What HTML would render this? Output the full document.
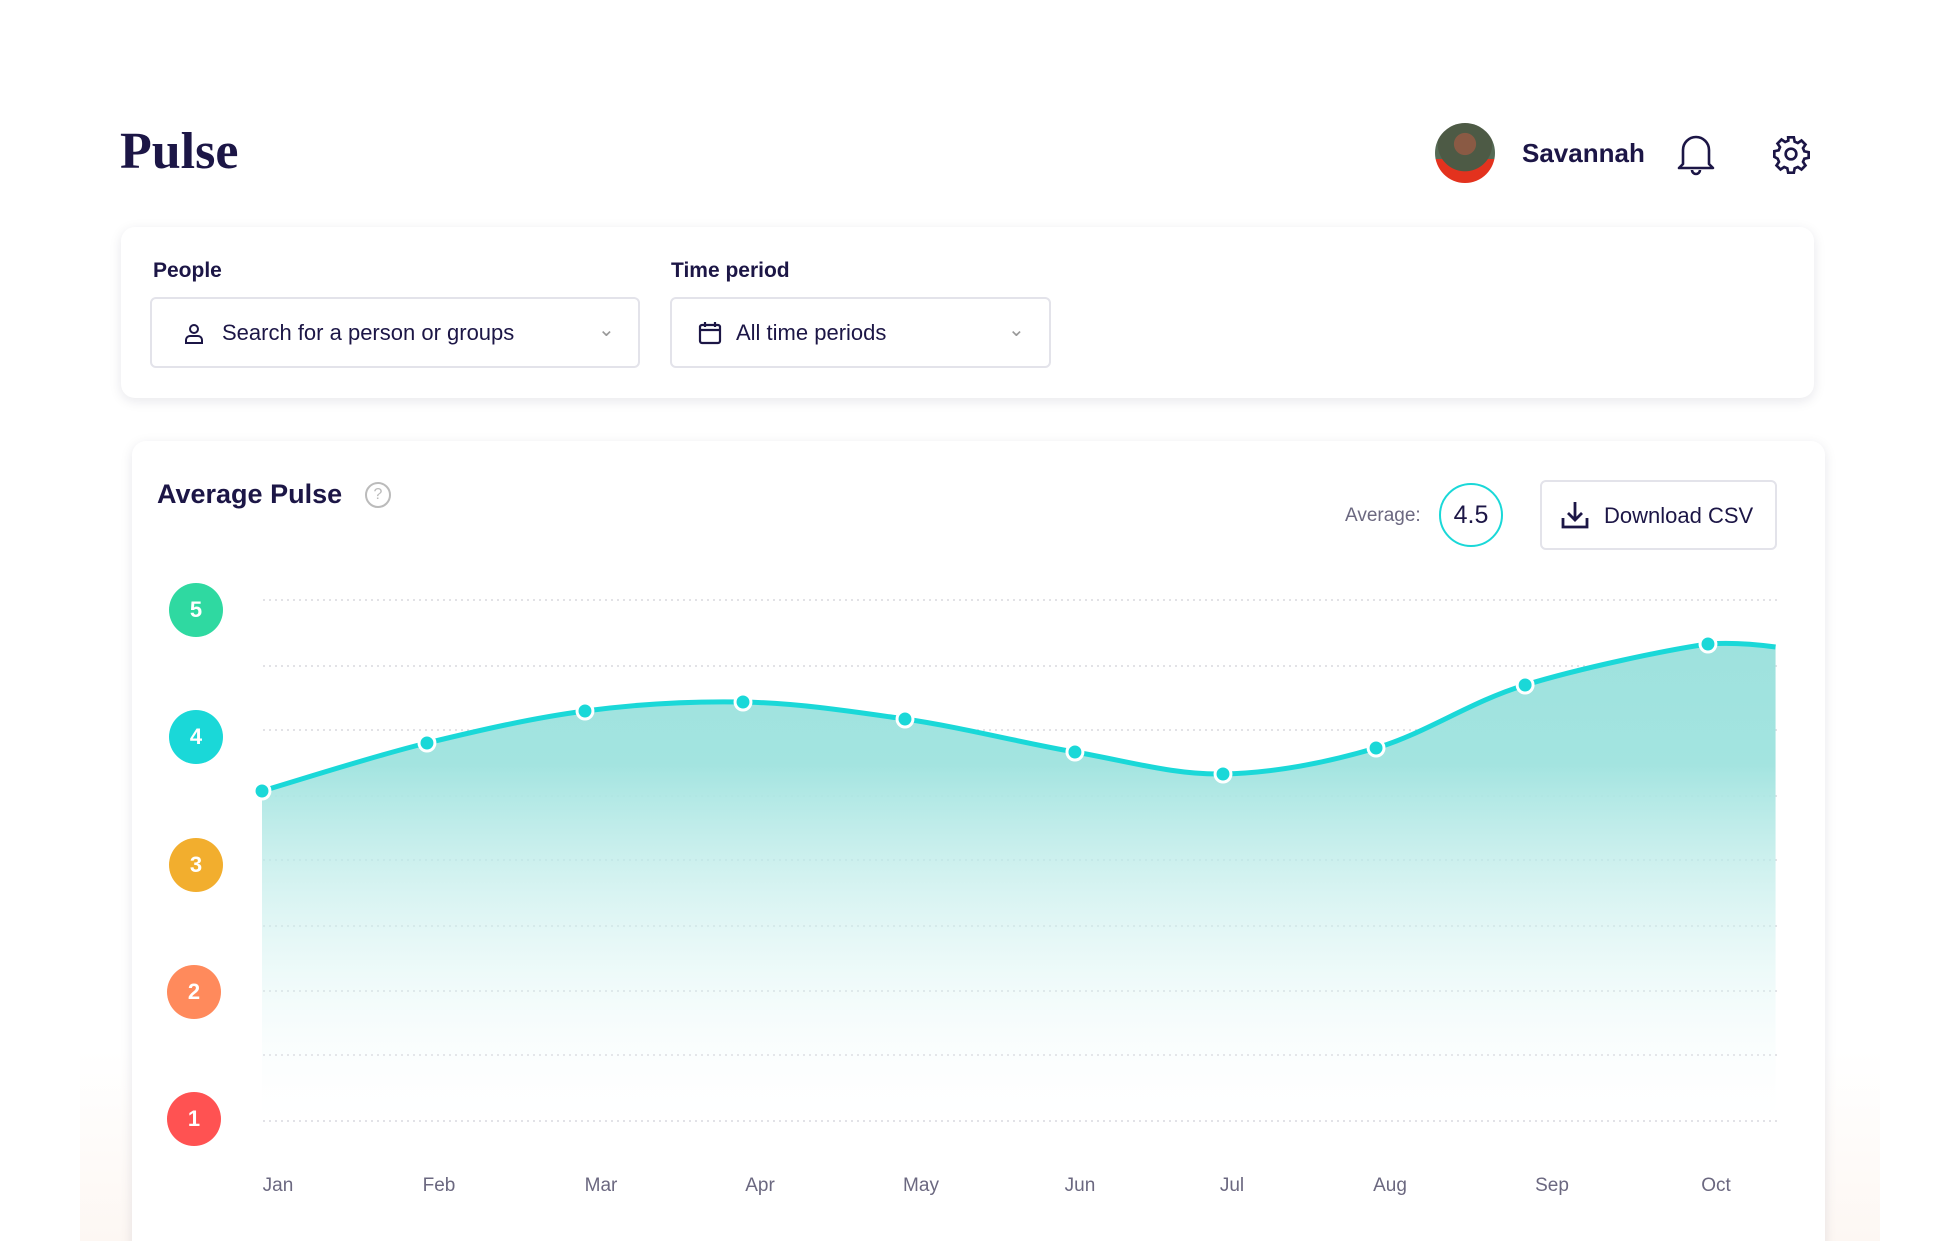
<!DOCTYPE html>
<html><head><meta charset="utf-8"><style>
*{margin:0;padding:0;box-sizing:border-box}
html,body{width:1939px;height:1241px;overflow:hidden}
body{background:#fff;font-family:"Liberation Sans",sans-serif;color:#1c1646;position:relative}
.abs{position:absolute}
.card{position:absolute;background:#fff;border-radius:14px;box-shadow:0 3px 12px rgba(20,20,60,0.10)}
.lbl{font-size:21px;font-weight:bold;color:#1c1646}
.dd{position:absolute;border:2px solid #e3e3ea;border-radius:6px;background:#fff;height:71px;top:297px;font-size:22px;color:#1c1646}
.lvl{position:absolute;width:54px;height:54px;border-radius:50%;color:#fff;font-weight:bold;font-size:22px;text-align:center;line-height:54px;left:169px}
.mon{position:absolute;top:1175px;font-size:19px;color:#6b6880;transform:translateX(-50%)}
</style></head><body>
<div class="abs" style="left:80px;top:1050px;width:1800px;height:191px;background:linear-gradient(#fff,#fdf7f3)"></div>
<div class="abs" style="left:120px;top:122px;font-family:'Liberation Serif',serif;font-weight:bold;font-size:52px;color:#1c1646">Pulse</div>
<div class="abs" style="left:1435px;top:123px;width:60px;height:60px;border-radius:50%;background:radial-gradient(circle at 50% 35%,#8a5a44 0 22%,#4d5a45 23% 55%,transparent 56%),linear-gradient(#556a55 0 60%,#e3321e 60%)"></div>
<div class="abs" style="left:1522px;top:138px;font-size:26px;font-weight:bold">Savannah</div>
<svg class="abs" style="left:1675px;top:132px" width="42" height="44" viewBox="0 0 42 44"><path d="M8 32 V18 a13 13 0 0 1 26 0 V32 l4 4 H4 z M17 38 a4 4 0 0 0 8 0" fill="none" stroke="#1c1646" stroke-width="2.6" stroke-linejoin="round"/></svg>
<svg class="abs" style="left:1771px;top:134px" width="40" height="40" viewBox="0 0 24 24"><path fill="none" stroke="#1c1646" stroke-width="1.6" d="M10.3 2h3.4l.5 2.6 1.9.8 2.2-1.5 2.4 2.4-1.5 2.2.8 1.9 2.6.5v3.4l-2.6.5-.8 1.9 1.5 2.2-2.4 2.4-2.2-1.5-1.9.8-.5 2.6h-3.4l-.5-2.6-1.9-.8-2.2 1.5-2.4-2.4 1.5-2.2-.8-1.9L2 13.7v-3.4l2.6-.5.8-1.9-1.5-2.2 2.4-2.4 2.2 1.5 1.9-.8z"/><circle cx="12" cy="12" r="3.2" fill="none" stroke="#1c1646" stroke-width="1.6"/></svg>

<div class="card" style="left:121px;top:227px;width:1693px;height:171px"></div>
<div class="abs lbl" style="left:153px;top:259px">People</div>
<div class="abs lbl" style="left:671px;top:259px">Time period</div>
<div class="dd" style="left:150px;width:490px">
 <svg class="abs" style="left:32px;top:24px" width="20" height="22" viewBox="0 0 20 22"><circle cx="10" cy="6" r="4" fill="none" stroke="#1c1646" stroke-width="2"/><path d="M2 20v-3a4 4 0 0 1 4-4h8a4 4 0 0 1 4 4v3z" fill="none" stroke="#1c1646" stroke-width="2"/></svg>
 <div class="abs" style="left:70px;top:21px">Search for a person or groups</div>
 <div class="abs" style="left:446px;top:18px;color:#999;font-size:20px">&#8964;</div>
</div>
<div class="dd" style="left:670px;width:381px">
 <svg class="abs" style="left:26px;top:22px" width="24" height="24" viewBox="0 0 24 24"><rect x="2" y="4" width="20" height="18" rx="2" fill="none" stroke="#1c1646" stroke-width="2.2"/><path d="M2 9h20M7 1v5M17 1v5" stroke="#1c1646" stroke-width="2.2"/></svg>
 <div class="abs" style="left:64px;top:21px">All time periods</div>
 <div class="abs" style="left:336px;top:18px;color:#999;font-size:20px">&#8964;</div>
</div>

<div class="card" style="left:132px;top:441px;width:1693px;height:830px"></div>
<div class="abs" style="left:157px;top:479px;font-size:27px;font-weight:bold">Average Pulse</div>
<div class="abs" style="left:365px;top:482px;width:26px;height:26px;border:2px solid #bbb;border-radius:50%;text-align:center;line-height:22px;font-size:16px;color:#bbb">?</div>
<div class="abs" style="left:1345px;top:505px;font-size:19px;color:#6b6880">Average:</div>
<div class="abs" style="left:1439px;top:483px;width:64px;height:64px;border:2px solid #1ad8d8;border-radius:50%;text-align:center;line-height:60px;font-size:25px">4.5</div>
<div class="abs" style="left:1540px;top:480px;width:237px;height:70px;border:2px solid #e3e3ea;border-radius:6px">
 <svg class="abs" style="left:18px;top:18px" width="30" height="30" viewBox="0 0 30 30"><path d="M15 2v18M8 13l7 7 7-7M3 18v9h24v-9" fill="none" stroke="#1c1646" stroke-width="2.8"/></svg>
 <div class="abs" style="left:62px;top:21px;font-size:22px">Download CSV</div>
</div>

<svg class="abs" style="left:0;top:0" width="1939" height="1241">
<defs><linearGradient id="g" x1="0" y1="640" x2="0" y2="1135" gradientUnits="userSpaceOnUse"><stop offset="0" stop-color="#9ee2de"/><stop offset="0.25" stop-color="#a3e4e0"/><stop offset="1" stop-color="#fff" stop-opacity="0"/></linearGradient></defs>
<g stroke="#d8d8de" stroke-width="1.5" stroke-dasharray="2 4">
<line x1="263" x2="1779" y1="600" y2="600"/><line x1="263" x2="1779" y1="666" y2="666"/><line x1="263" x2="1779" y1="730" y2="730"/><line x1="263" x2="1779" y1="796" y2="796"/><line x1="263" x2="1779" y1="860" y2="860"/><line x1="263" x2="1779" y1="926" y2="926"/><line x1="263" x2="1779" y1="991" y2="991"/><line x1="263" x2="1779" y1="1055" y2="1055"/><line x1="263" x2="1779" y1="1121" y2="1121"/>
</g>
<g transform="translate(262,0) scale(0.9938,1) translate(-262,0)">
<path fill="url(#g)" d="M262 791 C290 783 374 756 428 743 C482 730 534 718 587 711 C640 704 692 701 746 702 C800 703 853 711 909 719 C965 727 1027 743 1080 752 C1133 761 1179 775 1229 774 C1279 773 1332 763 1383 748 C1434 733 1477 702 1533 685 C1589 668 1675 650 1717 644 C1745 642 1770 645 1785 647 L1785 1135 L262 1135 Z"/>
<path fill="none" stroke="#1ad8d8" stroke-width="5" d="M262 791 C290 783 374 756 428 743 C482 730 534 718 587 711 C640 704 692 701 746 702 C800 703 853 711 909 719 C965 727 1027 743 1080 752 C1133 761 1179 775 1229 774 C1279 773 1332 763 1383 748 C1434 733 1477 702 1533 685 C1589 668 1675 650 1717 644 C1745 642 1770 645 1785 647"/>
<g fill="#1ad8d8" stroke="#fff" stroke-width="3">
<circle cx="262" cy="791" r="8"/><circle cx="428" cy="743" r="8"/><circle cx="587" cy="711" r="8"/><circle cx="746" cy="702" r="8"/><circle cx="909" cy="719" r="8"/><circle cx="1080" cy="752" r="8"/><circle cx="1229" cy="774" r="8"/><circle cx="1383" cy="748" r="8"/><circle cx="1533" cy="685" r="8"/><circle cx="1717" cy="644" r="8"/>
</g>
</g>
</svg>

<div class="lvl" style="top:583px;background:#2fd9a1">5</div>
<div class="lvl" style="top:710px;background:#1ad8d8">4</div>
<div class="lvl" style="top:838px;background:#f2ae2e">3</div>
<div class="lvl" style="top:965px;left:167px;background:#ff8a5c">2</div>
<div class="lvl" style="top:1092px;left:167px;background:#ff5252">1</div>

<div class="mon" style="left:278px">Jan</div><div class="mon" style="left:439px">Feb</div><div class="mon" style="left:601px">Mar</div><div class="mon" style="left:760px">Apr</div><div class="mon" style="left:921px">May</div><div class="mon" style="left:1080px">Jun</div><div class="mon" style="left:1232px">Jul</div><div class="mon" style="left:1390px">Aug</div><div class="mon" style="left:1552px">Sep</div><div class="mon" style="left:1716px">Oct</div>
</body></html>
